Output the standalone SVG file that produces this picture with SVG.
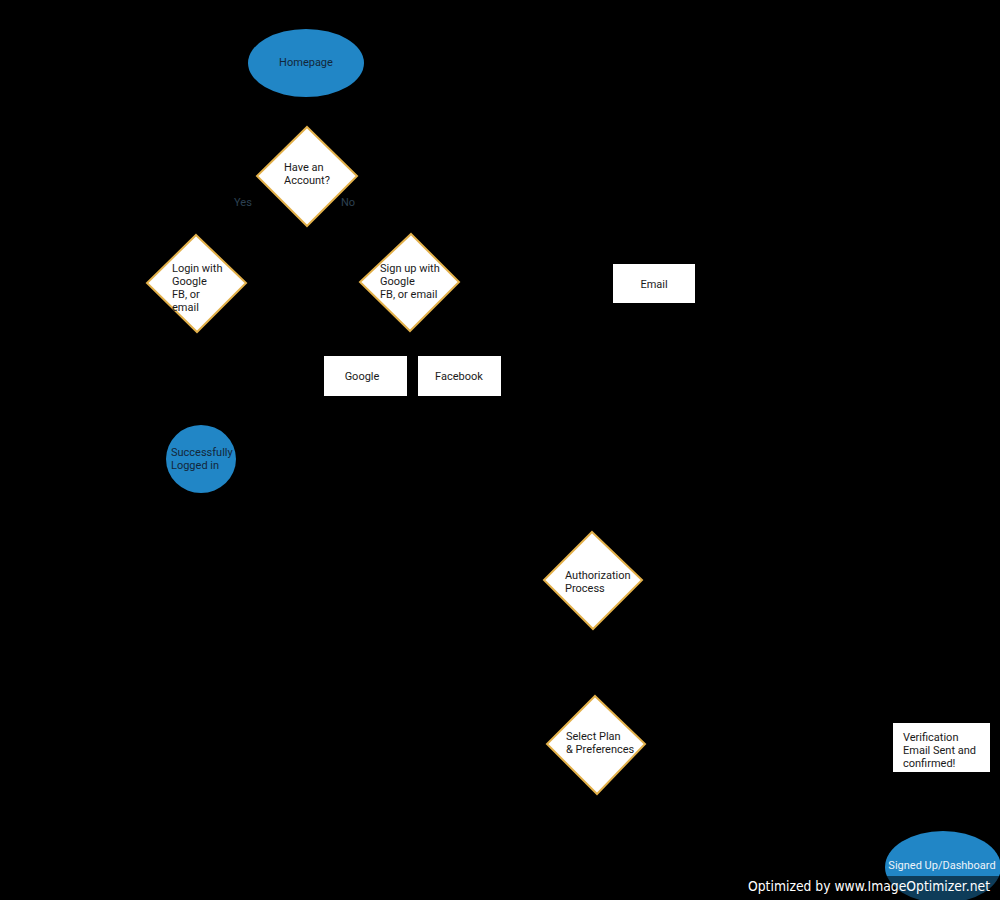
<svg xmlns="http://www.w3.org/2000/svg" width="1000" height="900" viewBox="0 0 1000 900">
  <defs>
    <style>
      .bg { fill: #000000; }
      .term { fill: #2186c6; }
      .dec { fill: #ffffff; stroke: #e2b04a; stroke-width: 2; }
      .box { fill: #ffffff; }
      .lbl { font-family: Roboto, "Liberation Sans", sans-serif; font-size: 11px; fill: #1a1a1a; }
      .dark { fill: #13273b; }
      .light { fill: #eef4fa; }
      .branch { font-family: Roboto, "Liberation Sans", sans-serif; font-size: 11px; fill: #2d4052; }
      .wire { fill: none; stroke: #000000; stroke-width: 1.5; }
    </style>
    <marker id="arrow" viewBox="0 0 10 10" refX="9" refY="5" markerWidth="7" markerHeight="7" orient="auto">
      <path d="M0,0 L10,5 L0,10 z" fill="#000000"/>
    </marker>
  </defs>

  <rect class="bg" x="0" y="0" width="1000" height="900"/>

  <!-- flow lines -->
  <g id="connectors">
    <path class="wire" d="M306,97 L306,126" marker-end="url(#arrow)"/>
    <path class="wire" d="M257,176 L197,176 L197,234" marker-end="url(#arrow)"/>
    <path class="wire" d="M357,176 L409,176 L409,233" marker-end="url(#arrow)"/>
    <path class="wire" d="M197,333 L201,424" marker-end="url(#arrow)"/>
    <path class="wire" d="M390,331 L366,355" marker-end="url(#arrow)"/>
    <path class="wire" d="M425,331 L459,355" marker-end="url(#arrow)"/>
    <path class="wire" d="M459,282 L612,283" marker-end="url(#arrow)"/>
    <path class="wire" d="M366,397 L593,531" marker-end="url(#arrow)"/>
    <path class="wire" d="M459,397 L593,531" marker-end="url(#arrow)"/>
    <path class="wire" d="M654,304 L941,722" marker-end="url(#arrow)"/>
    <path class="wire" d="M593,630 L595,694" marker-end="url(#arrow)"/>
    <path class="wire" d="M941,773 L942,830" marker-end="url(#arrow)"/>
    <path class="wire" d="M645,744 L892,747" marker-end="url(#arrow)"/>
  </g>

  <g id="homepage">
    <ellipse class="term" cx="306" cy="63" rx="58" ry="34"/>
    <text class="lbl dark" x="306" y="66" text-anchor="middle">Homepage</text>
  </g>

  <g id="have-account">
    <polygon class="dec" points="307,127 357,176 307,226 257,176"/>
    <text class="lbl" x="284" y="171">Have an</text>
    <text class="lbl" x="284" y="184">Account?</text>
  </g>

  <g id="branch-labels">
    <text class="branch" x="243" y="206" text-anchor="middle">Yes</text>
    <text class="branch" x="348" y="206" text-anchor="middle">No</text>
  </g>

  <g id="login">
    <polygon class="dec" points="196,235 246,283 197,332 147,283"/>
    <text class="lbl" x="172" y="272">Login with</text>
    <text class="lbl" x="172" y="285">Google</text>
    <text class="lbl" x="172" y="298">FB, or</text>
    <text class="lbl" x="172" y="311">email</text>
  </g>

  <g id="signup">
    <polygon class="dec" points="411,234 459,282 410,331 360,282"/>
    <text class="lbl" x="380" y="272">Sign up with</text>
    <text class="lbl" x="380" y="285">Google</text>
    <text class="lbl" x="380" y="298">FB, or email</text>
  </g>

  <g id="email">
    <rect class="box" x="613" y="264" width="82" height="39"/>
    <text class="lbl" x="654" y="288" text-anchor="middle">Email</text>
  </g>

  <g id="google">
    <rect class="box" x="324" y="356" width="83" height="40"/>
    <text class="lbl" x="362" y="380" text-anchor="middle">Google</text>
  </g>

  <g id="facebook">
    <rect class="box" x="418" y="356" width="83" height="40"/>
    <text class="lbl" x="459" y="380" text-anchor="middle">Facebook</text>
  </g>

  <g id="logged-in">
    <ellipse class="term" cx="201" cy="459" rx="35" ry="34"/>
    <text class="lbl dark" x="171" y="456">Successfully</text>
    <text class="lbl dark" x="171" y="469">Logged in</text>
  </g>

  <g id="authorization">
    <polygon class="dec" points="592,532 642,580 593,629 544,580"/>
    <text class="lbl" x="565" y="579">Authorization</text>
    <text class="lbl" x="565" y="592">Process</text>
  </g>

  <g id="select-plan">
    <polygon class="dec" points="595,696 645,744 597,794 547,744"/>
    <text class="lbl" x="566" y="740">Select Plan</text>
    <text class="lbl" x="566" y="753">&amp; Preferences</text>
  </g>

  <g id="verification">
    <rect class="box" x="893" y="723" width="97" height="49"/>
    <text class="lbl" x="903" y="741">Verification</text>
    <text class="lbl" x="903" y="754">Email Sent and</text>
    <text class="lbl" x="903" y="767">confirmed!</text>
  </g>

  <g id="dashboard">
    <ellipse class="term" cx="943" cy="867" rx="58" ry="36"/>
    <text class="lbl light" x="942" y="869" text-anchor="middle">Signed Up/Dashboard</text>
  </g>

  <g id="watermark">
    <rect x="740" y="876" width="260" height="24" fill="#000000" opacity="0.55"/>
    <text x="748" y="891" font-family="'DejaVu Sans', Verdana, sans-serif" font-size="14" fill="#ffffff" textLength="242" lengthAdjust="spacingAndGlyphs">Optimized by www.ImageOptimizer.net</text>
  </g>
</svg>
